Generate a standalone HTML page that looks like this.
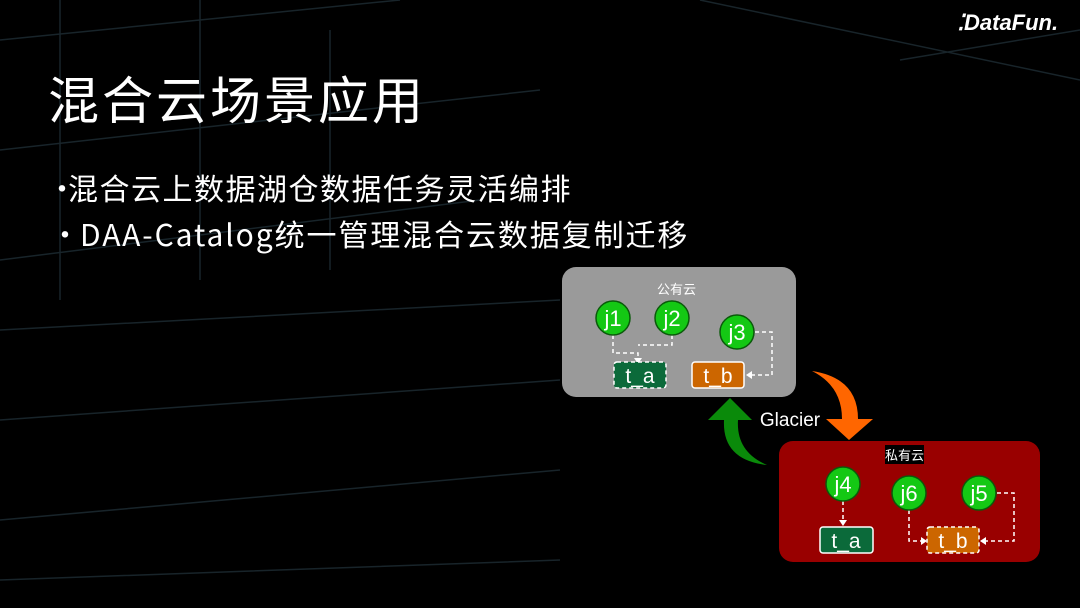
<!DOCTYPE html>
<html><head><meta charset="utf-8"><style>
body{margin:0;width:1080px;height:608px;overflow:hidden;background:#000;font-family:"Liberation Sans","Noto Sans CJK SC",sans-serif;position:relative}
.t{position:absolute;color:#fff;white-space:nowrap}
.b{font-size:30px;font-family:'Noto Sans CJK SC',sans-serif;line-height:46px}
</style></head><body>
<svg width="1080" height="608" style="position:absolute;left:0;top:0" font-family="Liberation Sans, sans-serif">
<g stroke="#18242a" stroke-width="1.5" fill="none">
<path d="M0 150 L540 90 M0 260 L480 200 M0 330 L560 300 M0 420 L560 380 M0 520 L560 470 M60 0 L60 300 M200 0 L200 280 M330 30 L330 270 M0 40 L400 0 M0 580 L560 560 M700 0 L1080 80 M900 60 L1080 30"/>
</g>
<rect x="560" y="265" width="482" height="300" fill="#000"/>
<rect x="562" y="267" width="234" height="130" rx="14" fill="#9a9a9a"/>
<rect x="779" y="441" width="261" height="121" rx="14" fill="#990000"/>
<g fill="none" stroke="#fff" stroke-width="1.5" stroke-dasharray="4,3">
<path d="M613 335 V353 H638 V360"/><path d="M672 335 V345 H638"/>
<path d="M755 332 H772 V375 H750"/>
<path d="M843 501 V522"/>
<path d="M909 510 V541 H922"/>
<path d="M997 493 H1014 V541 H984"/>
</g>
<g fill="#fff"><path d="M634 358 L642 358 L638 364Z"/><path d="M746 375 L752 371 L752 379Z"/><path d="M839 520 L847 520 L843 526Z"/><path d="M927 541 L921 537 L921 545Z"/><path d="M980 541 L986 537 L986 545Z"/></g>
<g fill="#14c814" stroke="#0a5a0a" stroke-width="1.5">
<circle cx="613" cy="318" r="17"/><circle cx="672" cy="318" r="17"/><circle cx="737" cy="332" r="17"/>
<circle cx="843" cy="484" r="17"/><circle cx="909" cy="493" r="17"/><circle cx="979" cy="493" r="17"/>
</g>
<rect x="614" y="362" width="52" height="26" rx="3" fill="#0b6a3a" stroke="#fff" stroke-width="1.5" stroke-dasharray="4,3"/>
<rect x="692" y="362" width="52" height="26" rx="3" fill="#cc6600" stroke="#fff" stroke-width="1.5"/>
<rect x="820" y="527" width="53" height="26" rx="3" fill="#0b6a3a" stroke="#fff" stroke-width="1.5"/>
<rect x="927" y="527" width="52" height="26" rx="3" fill="#cc6600" stroke="#fff" stroke-width="1.5" stroke-dasharray="4,3"/>
<path d="M812 371 Q858 378 858 419 L873 419 L849 440 L826 419 L842 419 Q842 386 812 371Z" fill="#ff6600"/>
<path d="M767 465 Q722 460 724 420 L708 420 L730 398 L752 420 L738 420 Q736 452 767 465Z" fill="#0a8a0a"/>
<g fill="#fff" font-size="22" text-anchor="middle">
<text x="613" y="326">j1</text><text x="672" y="326">j2</text><text x="737" y="340">j3</text>
<text x="843" y="492">j4</text><text x="909" y="501">j6</text><text x="979" y="501">j5</text>
<text x="640" y="383" font-size="21">t_a</text><text x="718" y="383" font-size="21">t_b</text>
<text x="846" y="548" font-size="21">t_a</text><text x="953" y="548" font-size="21">t_b</text>
<text x="790" y="426" font-size="19">Glacier</text>
</g>
</svg>
<div class="t" style="left:48px;top:60px;font-size:51px;font-family:'Noto Sans CJK SC',sans-serif;letter-spacing:3px">混合云场景应用</div>
<div class="t b" style="left:47px;top:164px">•</div>
<div class="t b" style="left:68px;top:164px;letter-spacing:1.5px">混合云上数据湖仓数据任务灵活编排</div>
<div class="t b" style="left:50px;top:210px">•</div>
<div class="t b" style="left:80px;top:210px;letter-spacing:1.9px">DAA-Catalog统一管理混合云数据复制迁移</div>
<div class="t" style="left:957px;top:10px;font-size:22px;font-weight:bold;font-style:italic">⁚DataFun.</div>
<div class="t" style="left:657px;top:279px;font-size:13px">公有云</div>
<div class="t" style="left:885px;top:445px;font-size:13px;background:#000">私有云</div>
</body></html>
